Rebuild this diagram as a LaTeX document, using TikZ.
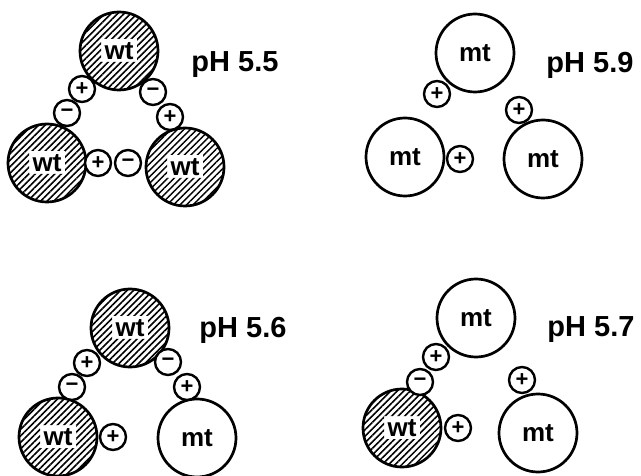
\documentclass[tikz,border=0pt]{standalone}
\usepackage{fontspec}
\setmainfont{Liberation Sans}
\usetikzlibrary{patterns.meta}
\tikzset{
  x=1pt, y=-1pt,
  ball/.style={circle, draw, line width=2.7pt, minimum size=78pt, inner sep=0pt,
    font=\bfseries\fontsize{26}{26}\selectfont},
  wtball/.style={ball, path picture={
      \fill[pattern={Lines[angle=45,distance=4.6pt,line width=1.5pt]}, even odd rule]
        (path picture bounding box.south west) rectangle (path picture bounding box.north east)
        (path picture bounding box.center) ++(-18,-12) rectangle ++(36,23);
    }},
  chg/.style={circle, draw, fill=white, line width=2.4pt, minimum size=26pt, inner sep=0pt,
    font=\bfseries\fontsize{22}{22}\selectfont},
  phlab/.style={font=\bfseries\fontsize{29}{29}\selectfont, inner sep=0pt}
}
\begin{document}
\begin{tikzpicture}
\useasboundingbox (0,0) rectangle (641,476);
% ---- pH 5.5
\node[wtball] (a1) at (119,51) {wt};
\node[wtball] (a2) at (47,163) {wt};
\node[wtball] (a3) at (185,167) {wt};
\node[chg] (a4) at (82,89) {+};
\node[chg] (a5) at (67,113) {−};
\node[chg] (a6) at (153,92) {−};
\node[chg] (a7) at (170,117) {+};
\node[chg] (a8) at (98,163) {+};
\node[chg] (a9) at (128,163) {−};
\node[phlab] (pa) at (235,65) {pH 5.5};
% ---- pH 5.9
\node[ball] (b1) at (475,53) {mt};
\node[ball] (b2) at (405,157) {mt};
\node[ball] (b3) at (543,159) {mt};
\node[chg] (b4) at (437,94) {+};
\node[chg] (b5) at (460,159) {+};
\node[chg] (b6) at (519,110) {+};
\node[phlab] (pb) at (590,65) {pH 5.9};
% ---- pH 5.6
\node[wtball] (c1) at (130,328) {wt};
\node[wtball] (c2) at (58,437) {wt};
\node[ball] (c3) at (197,438) {mt};
\node[chg] (c4) at (87,363) {+};
\node[chg] (c5) at (72,387) {−};
\node[chg] (c6) at (168,362) {−};
\node[chg] (c7) at (187,387) {+};
\node[chg] (c8) at (113,437) {+};
\node[phlab] (pc) at (243,330) {pH 5.6};
% ---- pH 5.7
\node[ball] (d1) at (476,318) {mt};
\node[wtball] (d2) at (402,428) {wt};
\node[ball] (d3) at (538,433) {mt};
\node[chg] (d4) at (436,357) {+};
\node[chg] (d5) at (420,382) {−};
\node[chg] (d6) at (458,428) {+};
\node[chg] (d7) at (522,380) {+};
\node[phlab] (pd) at (591,330) {pH 5.7};
\end{tikzpicture}
\end{document}
